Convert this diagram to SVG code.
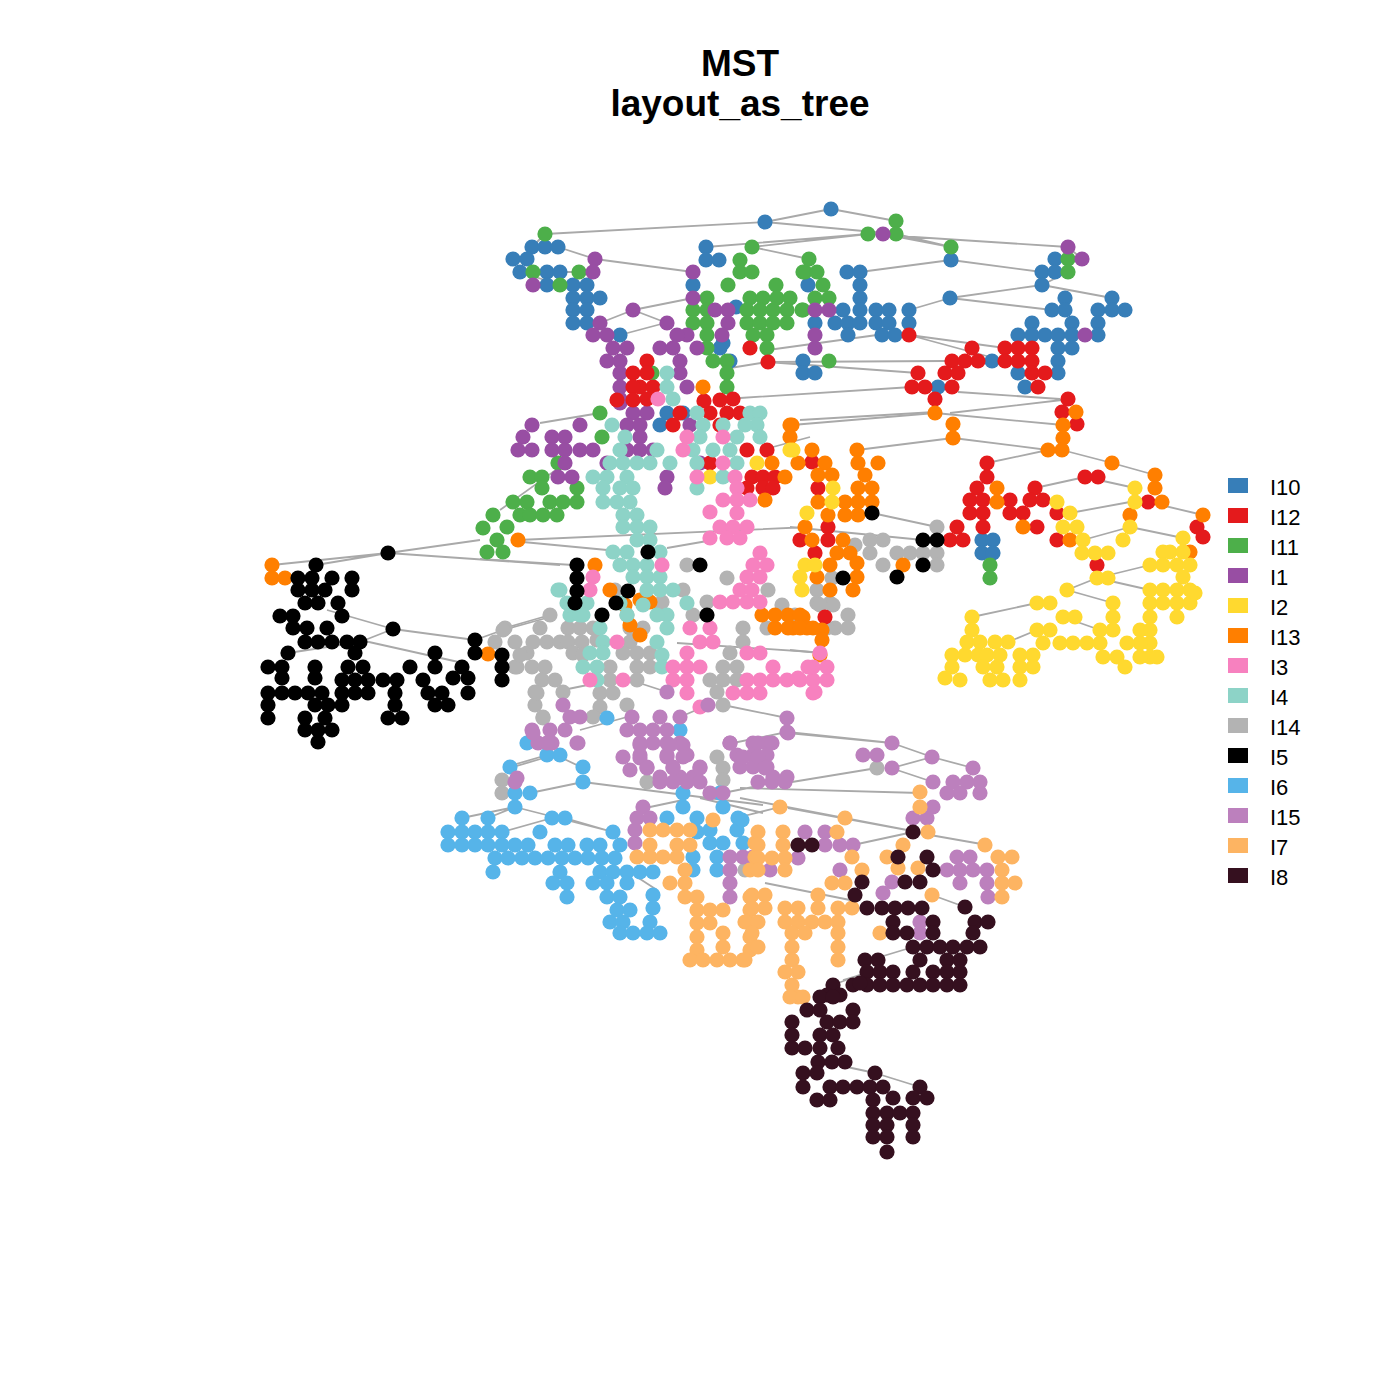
<svg xmlns="http://www.w3.org/2000/svg" width="1400" height="1400" viewBox="0 0 1400 1400">
<style>
circle{r:7.6px}
.e{stroke:#A9A9A9;stroke-width:1.8;fill:none}
.t{font-family:"Liberation Sans",Arial,sans-serif;font-weight:bold;font-size:37px;text-anchor:middle;fill:#000}
.l{font-family:"Liberation Sans",Arial,sans-serif;font-size:22px;fill:#000}
#I10 circle,.s10{fill:#377EB8}#I12 circle,.s12{fill:#E41A1C}#I11 circle,.s11{fill:#4DAF4A}#I1 circle,.s1{fill:#984EA3}
#I2 circle,.s2{fill:#FFD92F}#I13 circle,.s13{fill:#FF7F00}#I3 circle,.s3{fill:#F781BF}#I4 circle,.s4{fill:#8DD3C7}
#I14 circle,.s14{fill:#B3B3B3}#I5 circle,.s5{fill:#000}#I6 circle,.s6{fill:#56B4E9}#I15 circle,.s15{fill:#BC80BD}
#I7 circle,.s7{fill:#FDB462}#I8 circle,.s8{fill:#35101F}
</style>
<rect width="1400" height="1400" fill="#fff"/>
<text class="t" x="740" y="76">MST</text>
<text class="t" x="740" y="116">layout_as_tree</text>
<g id="edges" class="e">
<path d="M831,209L765,222M831,209L896,221M765,222L545,234M765,222L896,234M706,247L868,234M752,247L868,234M868,234L1068,247M896,234L951,247M883,234L951,247M558,247L595,259M595,259L693,272M545,234L532,247M752,247L809,259M860,272L951,260M951,260L1042,272M909,310L950,298M950,298L1042,285M950,298L1052,310M1042,285L1112,298M909,335L1005,348M909,335L1005,361M770,362L945,361M767,362L918,373M740,398L912,387M800,420L935,412M950,413L1062,400M958,392L1060,399M633,310L693,298M633,310L667,323M600,323L633,310M620,335L665,323M560,272L593,272M520,272L560,285M1068,247L1082,259M1068,272L1042,285M768,350L877,335M730,368L767,362M540,423L600,413M773,447L810,437"/>
<path d="M480,559L573,565M518,540L810,527M523,542L607,550M500,510L560,467M667,548L713,540M792,425L935,413M935,413L1063,425M953,438L857,450M953,438L1048,450M1062,450L1112,463M1112,463L1155,475M987,463L1048,450M1085,477L1135,488M1035,488L1085,477M1148,502L1203,515M1070,513L1130,502M1083,540L1130,527M1130,527L1183,538M1097,578L1150,565M1097,578L1150,590M1067,590L1097,578M972,617L1037,603M1067,590L1113,603M1008,642L1037,630M872,513L937,527M790,527L923,540M1063,617L1100,630M790,650L820,653"/>
<path d="M272,565L388,553M388,553L480,540M388,553L560,565M316,565L388,553M327,610L393,629M393,629L475,640M360,642L393,629M288,653L360,642M360,640L463,663M503,630L550,617M475,640L503,630"/>
<path d="M505,628L550,615M677,643L827,653M563,690L627,677M630,680L667,692M680,717L708,705M723,705L787,718M787,732L892,743M733,743L787,732M513,765L547,755M560,757L583,768M788,733L892,743M892,743L932,757M932,757L973,768M892,768L932,757M792,782L877,768M897,770L927,780M740,788L920,793M740,798L907,830M740,817L780,807M788,808L907,830M853,845L913,832M913,832L987,845M932,895L965,907M765,883L850,900M880,957L913,947M833,985L867,972M510,768L547,757M530,793L583,782M583,782L763,805M462,818L515,807M488,818L515,807M515,807L613,832M502,832L552,818M565,818L613,832M650,807L683,800M700,798L763,813M723,793L763,785M637,877L657,890M843,980L860,975M847,1067L875,1073M875,1073L920,1087M580,730L627,717"/>
</g>
<g id="I14"><circle cx="937" cy="527"/><circle cx="937" cy="553"/><circle cx="937" cy="565"/><circle cx="910" cy="553"/><circle cx="883" cy="540"/><circle cx="870" cy="540"/><circle cx="870" cy="553"/><circle cx="883" cy="565"/><circle cx="832" cy="578"/><circle cx="817" cy="590"/><circle cx="817" cy="603"/><circle cx="830" cy="603"/><circle cx="848" cy="615"/><circle cx="835" cy="628"/><circle cx="848" cy="628"/><circle cx="795" cy="617"/><circle cx="855" cy="545"/><circle cx="897" cy="553"/><circle cx="923" cy="553"/><circle cx="505" cy="628"/><circle cx="495" cy="642"/><circle cx="515" cy="642"/><circle cx="515" cy="667"/><circle cx="527" cy="653"/><circle cx="540" cy="628"/><circle cx="533" cy="642"/><circle cx="547" cy="642"/><circle cx="560" cy="642"/><circle cx="532" cy="667"/><circle cx="545" cy="667"/><circle cx="542" cy="680"/><circle cx="555" cy="680"/><circle cx="535" cy="692"/><circle cx="563" cy="692"/><circle cx="535" cy="705"/><circle cx="543" cy="717"/><circle cx="550" cy="615"/><circle cx="568" cy="628"/><circle cx="568" cy="642"/><circle cx="580" cy="628"/><circle cx="582" cy="642"/><circle cx="573" cy="653"/><circle cx="593" cy="628"/><circle cx="610" cy="667"/><circle cx="610" cy="680"/><circle cx="600" cy="693"/><circle cx="613" cy="693"/><circle cx="600" cy="707"/><circle cx="593" cy="717"/><circle cx="627" cy="705"/><circle cx="627" cy="615"/><circle cx="630" cy="628"/><circle cx="643" cy="628"/><circle cx="630" cy="642"/><circle cx="623" cy="653"/><circle cx="637" cy="653"/><circle cx="650" cy="653"/><circle cx="637" cy="667"/><circle cx="650" cy="667"/><circle cx="637" cy="680"/><circle cx="660" cy="605"/><circle cx="693" cy="615"/><circle cx="743" cy="628"/><circle cx="743" cy="642"/><circle cx="730" cy="653"/><circle cx="737" cy="667"/><circle cx="723" cy="667"/><circle cx="710" cy="680"/><circle cx="723" cy="680"/><circle cx="737" cy="680"/><circle cx="717" cy="692"/><circle cx="723" cy="705"/><circle cx="782" cy="605"/><circle cx="795" cy="615"/><circle cx="827" cy="628"/><circle cx="833" cy="605"/><circle cx="820" cy="605"/><circle cx="767" cy="628"/><circle cx="687" cy="565"/><circle cx="727" cy="578"/><circle cx="683" cy="590"/><circle cx="662" cy="602"/><circle cx="615" cy="590"/><circle cx="707" cy="602"/><circle cx="768" cy="590"/><circle cx="503" cy="630"/><circle cx="517" cy="667"/><circle cx="537" cy="693"/><circle cx="543" cy="718"/><circle cx="502" cy="780"/><circle cx="502" cy="793"/><circle cx="647" cy="782"/><circle cx="717" cy="757"/><circle cx="723" cy="768"/><circle cx="723" cy="780"/><circle cx="745" cy="870"/><circle cx="877" cy="768"/><circle cx="520" cy="655"/><circle cx="583" cy="655"/><circle cx="597" cy="640"/></g>
<g id="I10"><circle cx="831" cy="209"/><circle cx="765" cy="222"/><circle cx="532" cy="247"/><circle cx="545" cy="247"/><circle cx="558" cy="247"/><circle cx="513" cy="259"/><circle cx="527" cy="259"/><circle cx="520" cy="272"/><circle cx="547" cy="272"/><circle cx="560" cy="272"/><circle cx="547" cy="285"/><circle cx="573" cy="285"/><circle cx="587" cy="285"/><circle cx="573" cy="298"/><circle cx="587" cy="298"/><circle cx="600" cy="298"/><circle cx="573" cy="310"/><circle cx="587" cy="310"/><circle cx="573" cy="323"/><circle cx="587" cy="323"/><circle cx="620" cy="335"/><circle cx="706" cy="247"/><circle cx="706" cy="260"/><circle cx="719" cy="260"/><circle cx="693" cy="285"/><circle cx="808" cy="285"/><circle cx="815" cy="323"/><circle cx="803" cy="361"/><circle cx="803" cy="373"/><circle cx="815" cy="373"/><circle cx="720" cy="348"/><circle cx="730" cy="361"/><circle cx="736" cy="307"/><circle cx="723" cy="343"/><circle cx="847" cy="272"/><circle cx="860" cy="272"/><circle cx="860" cy="285"/><circle cx="860" cy="298"/><circle cx="860" cy="310"/><circle cx="843" cy="310"/><circle cx="835" cy="323"/><circle cx="848" cy="323"/><circle cx="848" cy="335"/><circle cx="860" cy="323"/><circle cx="876" cy="310"/><circle cx="889" cy="310"/><circle cx="876" cy="323"/><circle cx="889" cy="323"/><circle cx="882" cy="335"/><circle cx="895" cy="335"/><circle cx="909" cy="310"/><circle cx="909" cy="323"/><circle cx="951" cy="260"/><circle cx="950" cy="298"/><circle cx="1055" cy="259"/><circle cx="1042" cy="272"/><circle cx="1055" cy="272"/><circle cx="1042" cy="285"/><circle cx="1065" cy="298"/><circle cx="1112" cy="298"/><circle cx="1098" cy="310"/><circle cx="1112" cy="310"/><circle cx="1125" cy="310"/><circle cx="1052" cy="310"/><circle cx="1065" cy="310"/><circle cx="1032" cy="323"/><circle cx="1072" cy="323"/><circle cx="1098" cy="323"/><circle cx="1018" cy="335"/><circle cx="1032" cy="335"/><circle cx="1045" cy="335"/><circle cx="1058" cy="335"/><circle cx="1072" cy="335"/><circle cx="1098" cy="335"/><circle cx="1058" cy="348"/><circle cx="1072" cy="348"/><circle cx="1058" cy="361"/><circle cx="1058" cy="373"/><circle cx="1018" cy="373"/><circle cx="1025" cy="387"/><circle cx="992" cy="361"/><circle cx="938" cy="387"/><circle cx="667" cy="413"/><circle cx="683" cy="413"/><circle cx="660" cy="425"/><circle cx="982" cy="540"/><circle cx="993" cy="540"/><circle cx="982" cy="553"/><circle cx="993" cy="553"/></g>
<g id="I11"><circle cx="896" cy="221"/><circle cx="868" cy="234"/><circle cx="896" cy="234"/><circle cx="545" cy="234"/><circle cx="951" cy="247"/><circle cx="752" cy="247"/><circle cx="1068" cy="259"/><circle cx="1068" cy="272"/><circle cx="533" cy="272"/><circle cx="560" cy="285"/><circle cx="579" cy="272"/><circle cx="740" cy="260"/><circle cx="740" cy="272"/><circle cx="752" cy="272"/><circle cx="728" cy="285"/><circle cx="776" cy="285"/><circle cx="707" cy="298"/><circle cx="693" cy="310"/><circle cx="707" cy="310"/><circle cx="693" cy="323"/><circle cx="707" cy="323"/><circle cx="707" cy="335"/><circle cx="750" cy="298"/><circle cx="763" cy="298"/><circle cx="777" cy="298"/><circle cx="790" cy="298"/><circle cx="747" cy="310"/><circle cx="760" cy="310"/><circle cx="773" cy="310"/><circle cx="787" cy="310"/><circle cx="802" cy="310"/><circle cx="747" cy="323"/><circle cx="760" cy="323"/><circle cx="773" cy="323"/><circle cx="787" cy="323"/><circle cx="753" cy="335"/><circle cx="767" cy="335"/><circle cx="767" cy="348"/><circle cx="707" cy="348"/><circle cx="713" cy="361"/><circle cx="727" cy="361"/><circle cx="727" cy="373"/><circle cx="727" cy="387"/><circle cx="805" cy="272"/><circle cx="809" cy="259"/><circle cx="803" cy="272"/><circle cx="817" cy="272"/><circle cx="823" cy="285"/><circle cx="815" cy="298"/><circle cx="829" cy="298"/><circle cx="803" cy="310"/><circle cx="829" cy="361"/><circle cx="652" cy="373"/><circle cx="600" cy="413"/><circle cx="602" cy="437"/><circle cx="558" cy="463"/><circle cx="530" cy="477"/><circle cx="542" cy="477"/><circle cx="542" cy="488"/><circle cx="577" cy="488"/><circle cx="513" cy="502"/><circle cx="527" cy="502"/><circle cx="550" cy="502"/><circle cx="563" cy="502"/><circle cx="577" cy="502"/><circle cx="493" cy="515"/><circle cx="520" cy="515"/><circle cx="530" cy="515"/><circle cx="543" cy="515"/><circle cx="557" cy="515"/><circle cx="483" cy="528"/><circle cx="507" cy="527"/><circle cx="497" cy="540"/><circle cx="487" cy="552"/><circle cx="503" cy="552"/><circle cx="990" cy="565"/><circle cx="990" cy="578"/></g>
<g id="I1"><circle cx="883" cy="234"/><circle cx="1068" cy="247"/><circle cx="1082" cy="259"/><circle cx="595" cy="259"/><circle cx="593" cy="272"/><circle cx="533" cy="285"/><circle cx="693" cy="272"/><circle cx="693" cy="298"/><circle cx="633" cy="310"/><circle cx="600" cy="323"/><circle cx="593" cy="335"/><circle cx="607" cy="335"/><circle cx="613" cy="348"/><circle cx="627" cy="348"/><circle cx="607" cy="361"/><circle cx="620" cy="361"/><circle cx="620" cy="373"/><circle cx="620" cy="387"/><circle cx="620" cy="399"/><circle cx="815" cy="310"/><circle cx="829" cy="310"/><circle cx="815" cy="335"/><circle cx="815" cy="348"/><circle cx="1085" cy="335"/><circle cx="715" cy="310"/><circle cx="728" cy="310"/><circle cx="728" cy="323"/><circle cx="722" cy="335"/><circle cx="667" cy="323"/><circle cx="660" cy="348"/><circle cx="673" cy="348"/><circle cx="687" cy="335"/><circle cx="677" cy="335"/><circle cx="697" cy="348"/><circle cx="680" cy="361"/><circle cx="680" cy="373"/><circle cx="687" cy="387"/><circle cx="532" cy="425"/><circle cx="580" cy="425"/><circle cx="523" cy="437"/><circle cx="552" cy="437"/><circle cx="565" cy="437"/><circle cx="518" cy="450"/><circle cx="532" cy="450"/><circle cx="552" cy="450"/><circle cx="565" cy="450"/><circle cx="580" cy="450"/><circle cx="593" cy="450"/><circle cx="565" cy="463"/><circle cx="558" cy="477"/><circle cx="572" cy="477"/><circle cx="620" cy="403"/><circle cx="633" cy="413"/><circle cx="647" cy="413"/><circle cx="627" cy="425"/><circle cx="640" cy="425"/><circle cx="640" cy="437"/><circle cx="627" cy="450"/><circle cx="640" cy="450"/><circle cx="653" cy="450"/><circle cx="607" cy="463"/><circle cx="667" cy="477"/><circle cx="665" cy="488"/><circle cx="690" cy="425"/><circle cx="700" cy="463"/></g>
<g id="I12"><circle cx="750" cy="348"/><circle cx="768" cy="362"/><circle cx="909" cy="335"/><circle cx="647" cy="361"/><circle cx="647" cy="373"/><circle cx="640" cy="387"/><circle cx="653" cy="387"/><circle cx="647" cy="399"/><circle cx="733" cy="399"/><circle cx="710" cy="413"/><circle cx="727" cy="413"/><circle cx="673" cy="425"/><circle cx="720" cy="425"/><circle cx="710" cy="463"/><circle cx="752" cy="477"/><circle cx="763" cy="477"/><circle cx="775" cy="477"/><circle cx="747" cy="488"/><circle cx="763" cy="488"/><circle cx="773" cy="488"/><circle cx="767" cy="450"/><circle cx="747" cy="450"/><circle cx="680" cy="413"/><circle cx="633" cy="373"/><circle cx="633" cy="387"/><circle cx="633" cy="400"/><circle cx="617" cy="400"/><circle cx="704" cy="401"/><circle cx="720" cy="400"/><circle cx="740" cy="413"/><circle cx="972" cy="348"/><circle cx="952" cy="361"/><circle cx="965" cy="361"/><circle cx="978" cy="361"/><circle cx="945" cy="373"/><circle cx="958" cy="373"/><circle cx="918" cy="373"/><circle cx="912" cy="387"/><circle cx="925" cy="387"/><circle cx="952" cy="387"/><circle cx="935" cy="399"/><circle cx="1005" cy="348"/><circle cx="1018" cy="348"/><circle cx="1032" cy="348"/><circle cx="1005" cy="361"/><circle cx="1018" cy="361"/><circle cx="1032" cy="361"/><circle cx="1032" cy="373"/><circle cx="1045" cy="373"/><circle cx="1038" cy="387"/><circle cx="1068" cy="399"/><circle cx="1062" cy="412"/><circle cx="1077" cy="424"/><circle cx="987" cy="463"/><circle cx="987" cy="477"/><circle cx="977" cy="488"/><circle cx="970" cy="500"/><circle cx="983" cy="500"/><circle cx="970" cy="513"/><circle cx="983" cy="513"/><circle cx="983" cy="527"/><circle cx="957" cy="527"/><circle cx="950" cy="540"/><circle cx="963" cy="540"/><circle cx="1010" cy="500"/><circle cx="1010" cy="513"/><circle cx="1023" cy="513"/><circle cx="1035" cy="488"/><circle cx="1030" cy="500"/><circle cx="1043" cy="500"/><circle cx="1037" cy="527"/><circle cx="1057" cy="513"/><circle cx="1057" cy="540"/><circle cx="1085" cy="477"/><circle cx="1098" cy="477"/><circle cx="1148" cy="502"/><circle cx="1097" cy="565"/><circle cx="1197" cy="527"/><circle cx="1203" cy="537"/><circle cx="812" cy="462"/><circle cx="818" cy="488"/><circle cx="828" cy="527"/><circle cx="828" cy="540"/><circle cx="800" cy="540"/><circle cx="815" cy="553"/><circle cx="825" cy="617"/></g>
<g id="I13"><circle cx="935" cy="413"/><circle cx="953" cy="424"/><circle cx="953" cy="438"/><circle cx="1063" cy="425"/><circle cx="1063" cy="438"/><circle cx="1048" cy="450"/><circle cx="1062" cy="450"/><circle cx="1112" cy="463"/><circle cx="1155" cy="475"/><circle cx="1155" cy="488"/><circle cx="1162" cy="502"/><circle cx="1203" cy="515"/><circle cx="1190" cy="552"/><circle cx="1130" cy="515"/><circle cx="1070" cy="540"/><circle cx="997" cy="488"/><circle cx="997" cy="502"/><circle cx="1023" cy="527"/><circle cx="1076" cy="412"/><circle cx="792" cy="425"/><circle cx="812" cy="450"/><circle cx="857" cy="450"/><circle cx="798" cy="463"/><circle cx="825" cy="463"/><circle cx="818" cy="475"/><circle cx="832" cy="475"/><circle cx="858" cy="463"/><circle cx="878" cy="463"/><circle cx="865" cy="475"/><circle cx="858" cy="488"/><circle cx="872" cy="488"/><circle cx="845" cy="502"/><circle cx="858" cy="502"/><circle cx="872" cy="502"/><circle cx="818" cy="502"/><circle cx="845" cy="515"/><circle cx="858" cy="515"/><circle cx="828" cy="515"/><circle cx="805" cy="527"/><circle cx="812" cy="540"/><circle cx="843" cy="540"/><circle cx="837" cy="553"/><circle cx="850" cy="553"/><circle cx="857" cy="563"/><circle cx="830" cy="565"/><circle cx="817" cy="577"/><circle cx="857" cy="577"/><circle cx="853" cy="590"/><circle cx="830" cy="590"/><circle cx="903" cy="565"/><circle cx="803" cy="617"/><circle cx="807" cy="628"/><circle cx="822" cy="630"/><circle cx="822" cy="640"/><circle cx="793" cy="628"/><circle cx="762" cy="615"/><circle cx="775" cy="615"/><circle cx="788" cy="615"/><circle cx="800" cy="615"/><circle cx="775" cy="628"/><circle cx="788" cy="628"/><circle cx="800" cy="628"/><circle cx="813" cy="628"/><circle cx="820" cy="655"/><circle cx="272" cy="565"/><circle cx="272" cy="578"/><circle cx="285" cy="578"/><circle cx="518" cy="540"/><circle cx="488" cy="654"/><circle cx="595" cy="565"/><circle cx="610" cy="590"/><circle cx="625" cy="605"/><circle cx="640" cy="600"/><circle cx="630" cy="625"/><circle cx="640" cy="635"/><circle cx="650" cy="602"/><circle cx="790" cy="425"/><circle cx="772" cy="463"/><circle cx="785" cy="477"/><circle cx="765" cy="500"/><circle cx="703" cy="387"/><circle cx="790" cy="437"/></g>
<g id="I2"><circle cx="1057" cy="502"/><circle cx="1070" cy="513"/><circle cx="1063" cy="527"/><circle cx="1077" cy="527"/><circle cx="1083" cy="540"/><circle cx="1082" cy="553"/><circle cx="1095" cy="553"/><circle cx="1108" cy="553"/><circle cx="1097" cy="578"/><circle cx="1108" cy="578"/><circle cx="1135" cy="488"/><circle cx="1135" cy="502"/><circle cx="1130" cy="527"/><circle cx="1123" cy="540"/><circle cx="1183" cy="538"/><circle cx="1170" cy="552"/><circle cx="1163" cy="552"/><circle cx="1183" cy="552"/><circle cx="1150" cy="565"/><circle cx="1163" cy="565"/><circle cx="1177" cy="565"/><circle cx="1190" cy="565"/><circle cx="1183" cy="577"/><circle cx="1150" cy="590"/><circle cx="1163" cy="590"/><circle cx="1177" cy="590"/><circle cx="1190" cy="590"/><circle cx="1150" cy="603"/><circle cx="1163" cy="603"/><circle cx="1177" cy="603"/><circle cx="1190" cy="603"/><circle cx="1177" cy="617"/><circle cx="1150" cy="617"/><circle cx="1150" cy="630"/><circle cx="1150" cy="643"/><circle cx="1150" cy="657"/><circle cx="1140" cy="630"/><circle cx="1140" cy="643"/><circle cx="1140" cy="657"/><circle cx="1157" cy="657"/><circle cx="1195" cy="593"/><circle cx="1067" cy="590"/><circle cx="1037" cy="603"/><circle cx="1050" cy="603"/><circle cx="1063" cy="617"/><circle cx="1075" cy="617"/><circle cx="1113" cy="603"/><circle cx="1113" cy="617"/><circle cx="1100" cy="630"/><circle cx="1113" cy="630"/><circle cx="1037" cy="630"/><circle cx="1050" cy="630"/><circle cx="1043" cy="643"/><circle cx="1060" cy="643"/><circle cx="1073" cy="643"/><circle cx="1087" cy="643"/><circle cx="1100" cy="643"/><circle cx="1127" cy="643"/><circle cx="1103" cy="657"/><circle cx="1117" cy="657"/><circle cx="1125" cy="667"/><circle cx="972" cy="617"/><circle cx="972" cy="630"/><circle cx="967" cy="642"/><circle cx="980" cy="642"/><circle cx="952" cy="655"/><circle cx="965" cy="655"/><circle cx="978" cy="655"/><circle cx="952" cy="667"/><circle cx="945" cy="678"/><circle cx="960" cy="680"/><circle cx="995" cy="642"/><circle cx="1008" cy="642"/><circle cx="987" cy="655"/><circle cx="1000" cy="655"/><circle cx="983" cy="667"/><circle cx="997" cy="667"/><circle cx="990" cy="680"/><circle cx="1003" cy="680"/><circle cx="1020" cy="655"/><circle cx="1033" cy="655"/><circle cx="1020" cy="667"/><circle cx="1033" cy="667"/><circle cx="1020" cy="680"/><circle cx="793" cy="450"/><circle cx="807" cy="513"/><circle cx="805" cy="565"/><circle cx="800" cy="577"/><circle cx="802" cy="590"/><circle cx="833" cy="488"/><circle cx="832" cy="502"/><circle cx="757" cy="463"/><circle cx="790" cy="450"/><circle cx="710" cy="477"/><circle cx="815" cy="565"/></g>
<g id="I4"><circle cx="667" cy="373"/><circle cx="667" cy="387"/><circle cx="673" cy="399"/><circle cx="697" cy="413"/><circle cx="750" cy="413"/><circle cx="760" cy="413"/><circle cx="703" cy="425"/><circle cx="723" cy="425"/><circle cx="757" cy="425"/><circle cx="745" cy="425"/><circle cx="700" cy="437"/><circle cx="737" cy="437"/><circle cx="760" cy="437"/><circle cx="693" cy="450"/><circle cx="713" cy="450"/><circle cx="730" cy="450"/><circle cx="697" cy="463"/><circle cx="737" cy="463"/><circle cx="723" cy="477"/><circle cx="697" cy="488"/><circle cx="612" cy="425"/><circle cx="625" cy="437"/><circle cx="620" cy="450"/><circle cx="610" cy="463"/><circle cx="623" cy="463"/><circle cx="637" cy="463"/><circle cx="650" cy="463"/><circle cx="657" cy="450"/><circle cx="670" cy="463"/><circle cx="593" cy="477"/><circle cx="607" cy="477"/><circle cx="627" cy="477"/><circle cx="603" cy="488"/><circle cx="620" cy="488"/><circle cx="633" cy="488"/><circle cx="603" cy="502"/><circle cx="617" cy="502"/><circle cx="630" cy="502"/><circle cx="623" cy="515"/><circle cx="637" cy="515"/><circle cx="623" cy="527"/><circle cx="637" cy="527"/><circle cx="650" cy="527"/><circle cx="637" cy="540"/><circle cx="650" cy="540"/><circle cx="613" cy="552"/><circle cx="627" cy="552"/><circle cx="660" cy="552"/><circle cx="620" cy="565"/><circle cx="633" cy="565"/><circle cx="647" cy="565"/><circle cx="633" cy="577"/><circle cx="647" cy="577"/><circle cx="660" cy="577"/><circle cx="560" cy="590"/><circle cx="567" cy="603"/><circle cx="587" cy="603"/><circle cx="647" cy="590"/><circle cx="660" cy="590"/><circle cx="673" cy="590"/><circle cx="687" cy="603"/><circle cx="620" cy="603"/><circle cx="627" cy="615"/><circle cx="667" cy="615"/><circle cx="570" cy="615"/><circle cx="583" cy="615"/><circle cx="570" cy="605"/><circle cx="580" cy="615"/><circle cx="643" cy="605"/><circle cx="657" cy="615"/><circle cx="667" cy="628"/><circle cx="657" cy="642"/><circle cx="662" cy="655"/><circle cx="662" cy="667"/><circle cx="600" cy="628"/><circle cx="603" cy="642"/><circle cx="590" cy="653"/><circle cx="603" cy="653"/><circle cx="583" cy="667"/><circle cx="597" cy="667"/><circle cx="597" cy="680"/><circle cx="558" cy="590"/></g>
<g id="I3"><circle cx="658" cy="399"/><circle cx="687" cy="437"/><circle cx="683" cy="450"/><circle cx="697" cy="477"/><circle cx="723" cy="437"/><circle cx="723" cy="463"/><circle cx="735" cy="477"/><circle cx="737" cy="488"/><circle cx="723" cy="500"/><circle cx="737" cy="500"/><circle cx="750" cy="500"/><circle cx="737" cy="513"/><circle cx="720" cy="527"/><circle cx="733" cy="527"/><circle cx="747" cy="527"/><circle cx="710" cy="538"/><circle cx="727" cy="538"/><circle cx="740" cy="538"/><circle cx="760" cy="553"/><circle cx="767" cy="565"/><circle cx="747" cy="577"/><circle cx="760" cy="577"/><circle cx="720" cy="602"/><circle cx="733" cy="602"/><circle cx="747" cy="602"/><circle cx="760" cy="602"/><circle cx="662" cy="565"/><circle cx="593" cy="577"/><circle cx="590" cy="590"/><circle cx="690" cy="628"/><circle cx="700" cy="642"/><circle cx="713" cy="642"/><circle cx="687" cy="653"/><circle cx="673" cy="667"/><circle cx="687" cy="667"/><circle cx="673" cy="680"/><circle cx="687" cy="680"/><circle cx="687" cy="693"/><circle cx="700" cy="707"/><circle cx="747" cy="653"/><circle cx="760" cy="653"/><circle cx="773" cy="667"/><circle cx="760" cy="680"/><circle cx="747" cy="680"/><circle cx="733" cy="693"/><circle cx="747" cy="693"/><circle cx="760" cy="693"/><circle cx="773" cy="680"/><circle cx="787" cy="680"/><circle cx="800" cy="680"/><circle cx="813" cy="680"/><circle cx="827" cy="680"/><circle cx="813" cy="667"/><circle cx="827" cy="667"/><circle cx="820" cy="653"/><circle cx="813" cy="693"/><circle cx="590" cy="680"/><circle cx="617" cy="642"/><circle cx="623" cy="680"/><circle cx="808" cy="667"/><circle cx="798" cy="678"/><circle cx="815" cy="692"/><circle cx="700" cy="667"/><circle cx="710" cy="628"/><circle cx="740" cy="590"/><circle cx="752" cy="590"/><circle cx="753" cy="565"/><circle cx="710" cy="512"/></g>
<g id="I5"><circle cx="388" cy="553"/><circle cx="393" cy="629"/><circle cx="316" cy="565"/><circle cx="298" cy="578"/><circle cx="312" cy="578"/><circle cx="332" cy="578"/><circle cx="352" cy="578"/><circle cx="298" cy="590"/><circle cx="312" cy="590"/><circle cx="325" cy="590"/><circle cx="352" cy="590"/><circle cx="305" cy="603"/><circle cx="318" cy="603"/><circle cx="338" cy="603"/><circle cx="280" cy="616"/><circle cx="293" cy="616"/><circle cx="342" cy="616"/><circle cx="293" cy="628"/><circle cx="307" cy="628"/><circle cx="327" cy="628"/><circle cx="305" cy="642"/><circle cx="318" cy="642"/><circle cx="332" cy="642"/><circle cx="347" cy="642"/><circle cx="360" cy="642"/><circle cx="355" cy="653"/><circle cx="288" cy="653"/><circle cx="268" cy="667"/><circle cx="282" cy="667"/><circle cx="315" cy="667"/><circle cx="348" cy="667"/><circle cx="363" cy="667"/><circle cx="282" cy="678"/><circle cx="315" cy="678"/><circle cx="342" cy="680"/><circle cx="355" cy="680"/><circle cx="368" cy="680"/><circle cx="383" cy="680"/><circle cx="397" cy="680"/><circle cx="410" cy="667"/><circle cx="423" cy="680"/><circle cx="435" cy="653"/><circle cx="435" cy="667"/><circle cx="462" cy="667"/><circle cx="475" cy="640"/><circle cx="475" cy="653"/><circle cx="468" cy="678"/><circle cx="453" cy="678"/><circle cx="268" cy="693"/><circle cx="282" cy="693"/><circle cx="295" cy="693"/><circle cx="308" cy="693"/><circle cx="322" cy="693"/><circle cx="342" cy="693"/><circle cx="355" cy="693"/><circle cx="368" cy="693"/><circle cx="395" cy="693"/><circle cx="428" cy="693"/><circle cx="442" cy="693"/><circle cx="468" cy="693"/><circle cx="268" cy="705"/><circle cx="315" cy="705"/><circle cx="328" cy="705"/><circle cx="342" cy="705"/><circle cx="395" cy="705"/><circle cx="435" cy="705"/><circle cx="448" cy="705"/><circle cx="268" cy="718"/><circle cx="305" cy="718"/><circle cx="325" cy="718"/><circle cx="388" cy="718"/><circle cx="402" cy="718"/><circle cx="305" cy="730"/><circle cx="318" cy="730"/><circle cx="332" cy="730"/><circle cx="318" cy="742"/><circle cx="502" cy="655"/><circle cx="502" cy="667"/><circle cx="502" cy="680"/><circle cx="648" cy="552"/><circle cx="700" cy="565"/><circle cx="577" cy="565"/><circle cx="577" cy="578"/><circle cx="577" cy="591"/><circle cx="575" cy="603"/><circle cx="628" cy="591"/><circle cx="616" cy="603"/><circle cx="602" cy="615"/><circle cx="707" cy="615"/><circle cx="872" cy="513"/><circle cx="923" cy="540"/><circle cx="937" cy="540"/><circle cx="923" cy="565"/><circle cx="897" cy="577"/><circle cx="843" cy="578"/></g>
<g id="I6"><circle cx="607" cy="718"/><circle cx="680" cy="730"/><circle cx="527" cy="743"/><circle cx="547" cy="755"/><circle cx="560" cy="755"/><circle cx="510" cy="767"/><circle cx="583" cy="767"/><circle cx="583" cy="782"/><circle cx="515" cy="793"/><circle cx="530" cy="793"/><circle cx="515" cy="807"/><circle cx="462" cy="818"/><circle cx="488" cy="818"/><circle cx="552" cy="818"/><circle cx="565" cy="818"/><circle cx="448" cy="832"/><circle cx="462" cy="832"/><circle cx="475" cy="832"/><circle cx="488" cy="832"/><circle cx="502" cy="832"/><circle cx="540" cy="832"/><circle cx="613" cy="832"/><circle cx="448" cy="845"/><circle cx="462" cy="845"/><circle cx="475" cy="845"/><circle cx="488" cy="845"/><circle cx="502" cy="845"/><circle cx="515" cy="845"/><circle cx="528" cy="845"/><circle cx="555" cy="845"/><circle cx="568" cy="845"/><circle cx="587" cy="845"/><circle cx="600" cy="845"/><circle cx="620" cy="845"/><circle cx="495" cy="858"/><circle cx="508" cy="858"/><circle cx="522" cy="858"/><circle cx="535" cy="858"/><circle cx="548" cy="858"/><circle cx="562" cy="858"/><circle cx="575" cy="858"/><circle cx="588" cy="858"/><circle cx="602" cy="858"/><circle cx="615" cy="858"/><circle cx="493" cy="872"/><circle cx="560" cy="872"/><circle cx="600" cy="872"/><circle cx="613" cy="872"/><circle cx="627" cy="872"/><circle cx="640" cy="872"/><circle cx="653" cy="872"/><circle cx="553" cy="883"/><circle cx="567" cy="883"/><circle cx="593" cy="883"/><circle cx="607" cy="883"/><circle cx="627" cy="883"/><circle cx="567" cy="897"/><circle cx="607" cy="897"/><circle cx="620" cy="897"/><circle cx="653" cy="895"/><circle cx="617" cy="910"/><circle cx="630" cy="910"/><circle cx="653" cy="908"/><circle cx="610" cy="922"/><circle cx="623" cy="922"/><circle cx="650" cy="922"/><circle cx="620" cy="933"/><circle cx="633" cy="933"/><circle cx="647" cy="933"/><circle cx="660" cy="933"/><circle cx="683" cy="807"/><circle cx="667" cy="818"/><circle cx="697" cy="818"/><circle cx="723" cy="807"/><circle cx="738" cy="818"/><circle cx="737" cy="830"/><circle cx="710" cy="830"/><circle cx="697" cy="832"/><circle cx="710" cy="843"/><circle cx="723" cy="843"/><circle cx="693" cy="857"/><circle cx="693" cy="870"/><circle cx="717" cy="857"/><circle cx="717" cy="870"/><circle cx="742" cy="820"/><circle cx="743" cy="843"/><circle cx="683" cy="793"/><circle cx="720" cy="793"/></g>
<g id="I15"><circle cx="667" cy="692"/><circle cx="708" cy="705"/><circle cx="563" cy="705"/><circle cx="570" cy="717"/><circle cx="580" cy="717"/><circle cx="532" cy="730"/><circle cx="550" cy="730"/><circle cx="565" cy="730"/><circle cx="538" cy="743"/><circle cx="552" cy="743"/><circle cx="578" cy="743"/><circle cx="517" cy="778"/><circle cx="632" cy="717"/><circle cx="660" cy="717"/><circle cx="680" cy="717"/><circle cx="627" cy="730"/><circle cx="640" cy="730"/><circle cx="653" cy="730"/><circle cx="667" cy="730"/><circle cx="640" cy="743"/><circle cx="653" cy="743"/><circle cx="667" cy="743"/><circle cx="680" cy="743"/><circle cx="640" cy="755"/><circle cx="667" cy="755"/><circle cx="687" cy="755"/><circle cx="647" cy="767"/><circle cx="673" cy="767"/><circle cx="700" cy="767"/><circle cx="660" cy="777"/><circle cx="680" cy="777"/><circle cx="693" cy="777"/><circle cx="730" cy="743"/><circle cx="737" cy="755"/><circle cx="753" cy="743"/><circle cx="767" cy="743"/><circle cx="753" cy="755"/><circle cx="767" cy="755"/><circle cx="740" cy="767"/><circle cx="753" cy="767"/><circle cx="767" cy="767"/><circle cx="787" cy="718"/><circle cx="787" cy="732"/><circle cx="787" cy="777"/><circle cx="773" cy="777"/><circle cx="533" cy="733"/><circle cx="547" cy="743"/><circle cx="577" cy="743"/><circle cx="515" cy="782"/><circle cx="643" cy="807"/><circle cx="637" cy="818"/><circle cx="650" cy="818"/><circle cx="635" cy="830"/><circle cx="635" cy="843"/><circle cx="640" cy="745"/><circle cx="670" cy="745"/><circle cx="683" cy="745"/><circle cx="640" cy="758"/><circle cx="667" cy="757"/><circle cx="683" cy="757"/><circle cx="647" cy="768"/><circle cx="673" cy="768"/><circle cx="700" cy="768"/><circle cx="660" cy="782"/><circle cx="673" cy="782"/><circle cx="687" cy="782"/><circle cx="700" cy="782"/><circle cx="710" cy="793"/><circle cx="723" cy="793"/><circle cx="730" cy="857"/><circle cx="743" cy="857"/><circle cx="730" cy="870"/><circle cx="730" cy="883"/><circle cx="730" cy="897"/><circle cx="730" cy="743"/><circle cx="743" cy="757"/><circle cx="788" cy="733"/><circle cx="758" cy="743"/><circle cx="772" cy="743"/><circle cx="758" cy="757"/><circle cx="765" cy="768"/><circle cx="758" cy="782"/><circle cx="772" cy="782"/><circle cx="785" cy="782"/><circle cx="892" cy="743"/><circle cx="863" cy="755"/><circle cx="877" cy="755"/><circle cx="932" cy="757"/><circle cx="892" cy="768"/><circle cx="973" cy="768"/><circle cx="933" cy="782"/><circle cx="953" cy="782"/><circle cx="967" cy="782"/><circle cx="980" cy="782"/><circle cx="947" cy="793"/><circle cx="960" cy="793"/><circle cx="980" cy="793"/><circle cx="933" cy="807"/><circle cx="927" cy="818"/><circle cx="913" cy="818"/><circle cx="805" cy="832"/><circle cx="825" cy="832"/><circle cx="798" cy="858"/><circle cx="825" cy="845"/><circle cx="840" cy="845"/><circle cx="853" cy="845"/><circle cx="840" cy="870"/><circle cx="753" cy="857"/><circle cx="770" cy="870"/><circle cx="883" cy="893"/><circle cx="892" cy="882"/><circle cx="920" cy="922"/><circle cx="920" cy="933"/><circle cx="957" cy="857"/><circle cx="970" cy="857"/><circle cx="947" cy="870"/><circle cx="960" cy="870"/><circle cx="973" cy="870"/><circle cx="987" cy="870"/><circle cx="960" cy="883"/><circle cx="987" cy="883"/><circle cx="988" cy="897"/><circle cx="623" cy="757"/><circle cx="630" cy="770"/></g>
<g id="I7"><circle cx="713" cy="820"/><circle cx="650" cy="830"/><circle cx="663" cy="830"/><circle cx="677" cy="830"/><circle cx="690" cy="830"/><circle cx="650" cy="845"/><circle cx="677" cy="845"/><circle cx="690" cy="845"/><circle cx="637" cy="857"/><circle cx="650" cy="857"/><circle cx="663" cy="857"/><circle cx="677" cy="857"/><circle cx="685" cy="870"/><circle cx="670" cy="883"/><circle cx="685" cy="883"/><circle cx="685" cy="897"/><circle cx="697" cy="897"/><circle cx="697" cy="910"/><circle cx="710" cy="910"/><circle cx="723" cy="910"/><circle cx="697" cy="923"/><circle cx="710" cy="923"/><circle cx="697" cy="937"/><circle cx="723" cy="933"/><circle cx="697" cy="950"/><circle cx="723" cy="947"/><circle cx="690" cy="960"/><circle cx="703" cy="960"/><circle cx="717" cy="960"/><circle cx="730" cy="960"/><circle cx="743" cy="960"/><circle cx="750" cy="870"/><circle cx="750" cy="897"/><circle cx="750" cy="910"/><circle cx="750" cy="923"/><circle cx="750" cy="937"/><circle cx="750" cy="950"/><circle cx="755" cy="857"/><circle cx="755" cy="843"/><circle cx="780" cy="807"/><circle cx="845" cy="818"/><circle cx="837" cy="832"/><circle cx="758" cy="832"/><circle cx="783" cy="832"/><circle cx="758" cy="845"/><circle cx="783" cy="845"/><circle cx="758" cy="858"/><circle cx="772" cy="858"/><circle cx="785" cy="858"/><circle cx="758" cy="870"/><circle cx="785" cy="870"/><circle cx="852" cy="857"/><circle cx="862" cy="870"/><circle cx="832" cy="883"/><circle cx="845" cy="883"/><circle cx="818" cy="895"/><circle cx="752" cy="895"/><circle cx="765" cy="895"/><circle cx="752" cy="908"/><circle cx="765" cy="908"/><circle cx="785" cy="908"/><circle cx="798" cy="908"/><circle cx="818" cy="908"/><circle cx="838" cy="908"/><circle cx="852" cy="908"/><circle cx="745" cy="922"/><circle cx="758" cy="922"/><circle cx="785" cy="922"/><circle cx="798" cy="922"/><circle cx="812" cy="922"/><circle cx="825" cy="922"/><circle cx="838" cy="922"/><circle cx="752" cy="933"/><circle cx="792" cy="933"/><circle cx="805" cy="933"/><circle cx="838" cy="933"/><circle cx="758" cy="947"/><circle cx="792" cy="947"/><circle cx="838" cy="947"/><circle cx="745" cy="960"/><circle cx="792" cy="960"/><circle cx="838" cy="960"/><circle cx="785" cy="972"/><circle cx="798" cy="972"/><circle cx="792" cy="985"/><circle cx="798" cy="997"/><circle cx="920" cy="792"/><circle cx="920" cy="807"/><circle cx="903" cy="845"/><circle cx="887" cy="857"/><circle cx="898" cy="868"/><circle cx="918" cy="868"/><circle cx="928" cy="832"/><circle cx="985" cy="845"/><circle cx="998" cy="857"/><circle cx="1012" cy="857"/><circle cx="1002" cy="870"/><circle cx="1002" cy="883"/><circle cx="1015" cy="883"/><circle cx="1002" cy="897"/><circle cx="932" cy="895"/><circle cx="880" cy="933"/><circle cx="790" cy="997"/><circle cx="803" cy="997"/></g>
<g id="I8"><circle cx="913" cy="832"/><circle cx="798" cy="845"/><circle cx="812" cy="845"/><circle cx="898" cy="857"/><circle cx="927" cy="857"/><circle cx="933" cy="870"/><circle cx="862" cy="882"/><circle cx="905" cy="882"/><circle cx="920" cy="882"/><circle cx="855" cy="895"/><circle cx="867" cy="908"/><circle cx="882" cy="908"/><circle cx="895" cy="908"/><circle cx="908" cy="908"/><circle cx="922" cy="908"/><circle cx="965" cy="907"/><circle cx="975" cy="922"/><circle cx="988" cy="922"/><circle cx="893" cy="922"/><circle cx="933" cy="922"/><circle cx="893" cy="933"/><circle cx="907" cy="933"/><circle cx="933" cy="933"/><circle cx="973" cy="933"/><circle cx="913" cy="947"/><circle cx="927" cy="947"/><circle cx="940" cy="947"/><circle cx="953" cy="947"/><circle cx="967" cy="947"/><circle cx="980" cy="947"/><circle cx="865" cy="960"/><circle cx="878" cy="960"/><circle cx="920" cy="960"/><circle cx="947" cy="960"/><circle cx="960" cy="960"/><circle cx="867" cy="972"/><circle cx="880" cy="972"/><circle cx="893" cy="972"/><circle cx="913" cy="972"/><circle cx="933" cy="972"/><circle cx="947" cy="972"/><circle cx="960" cy="972"/><circle cx="833" cy="985"/><circle cx="853" cy="985"/><circle cx="867" cy="985"/><circle cx="880" cy="985"/><circle cx="893" cy="985"/><circle cx="907" cy="985"/><circle cx="920" cy="985"/><circle cx="933" cy="985"/><circle cx="947" cy="985"/><circle cx="960" cy="985"/><circle cx="827" cy="995"/><circle cx="840" cy="995"/><circle cx="860" cy="983"/><circle cx="820" cy="997"/><circle cx="833" cy="997"/><circle cx="807" cy="1010"/><circle cx="820" cy="1010"/><circle cx="853" cy="1010"/><circle cx="792" cy="1022"/><circle cx="827" cy="1022"/><circle cx="840" cy="1022"/><circle cx="853" cy="1022"/><circle cx="792" cy="1035"/><circle cx="820" cy="1035"/><circle cx="833" cy="1035"/><circle cx="792" cy="1048"/><circle cx="805" cy="1048"/><circle cx="820" cy="1048"/><circle cx="838" cy="1048"/><circle cx="818" cy="1062"/><circle cx="832" cy="1062"/><circle cx="845" cy="1062"/><circle cx="803" cy="1073"/><circle cx="817" cy="1073"/><circle cx="875" cy="1073"/><circle cx="803" cy="1087"/><circle cx="830" cy="1087"/><circle cx="843" cy="1087"/><circle cx="857" cy="1087"/><circle cx="870" cy="1087"/><circle cx="883" cy="1087"/><circle cx="817" cy="1100"/><circle cx="830" cy="1100"/><circle cx="873" cy="1100"/><circle cx="893" cy="1098"/><circle cx="920" cy="1087"/><circle cx="913" cy="1098"/><circle cx="927" cy="1098"/><circle cx="873" cy="1113"/><circle cx="887" cy="1113"/><circle cx="900" cy="1113"/><circle cx="913" cy="1113"/><circle cx="873" cy="1125"/><circle cx="887" cy="1125"/><circle cx="913" cy="1125"/><circle cx="873" cy="1137"/><circle cx="887" cy="1137"/><circle cx="913" cy="1137"/><circle cx="887" cy="1152"/></g>
<g id="legend">
<rect class="s10" x="1228" y="478" width="20" height="15"/><text class="l" x="1270" y="495">I10</text>
<rect class="s12" x="1228" y="508" width="20" height="15"/><text class="l" x="1270" y="525">I12</text>
<rect class="s11" x="1228" y="538" width="20" height="15"/><text class="l" x="1270" y="555">I11</text>
<rect class="s1" x="1228" y="568" width="20" height="15"/><text class="l" x="1270" y="585">I1</text>
<rect class="s2" x="1228" y="598" width="20" height="15"/><text class="l" x="1270" y="615">I2</text>
<rect class="s13" x="1228" y="628" width="20" height="15"/><text class="l" x="1270" y="645">I13</text>
<rect class="s3" x="1228" y="658" width="20" height="15"/><text class="l" x="1270" y="675">I3</text>
<rect class="s4" x="1228" y="688" width="20" height="15"/><text class="l" x="1270" y="705">I4</text>
<rect class="s14" x="1228" y="718" width="20" height="15"/><text class="l" x="1270" y="735">I14</text>
<rect class="s5" x="1228" y="748" width="20" height="15"/><text class="l" x="1270" y="765">I5</text>
<rect class="s6" x="1228" y="778" width="20" height="15"/><text class="l" x="1270" y="795">I6</text>
<rect class="s15" x="1228" y="808" width="20" height="15"/><text class="l" x="1270" y="825">I15</text>
<rect class="s7" x="1228" y="838" width="20" height="15"/><text class="l" x="1270" y="855">I7</text>
<rect class="s8" x="1228" y="868" width="20" height="15"/><text class="l" x="1270" y="885">I8</text>
</g>
</svg>
